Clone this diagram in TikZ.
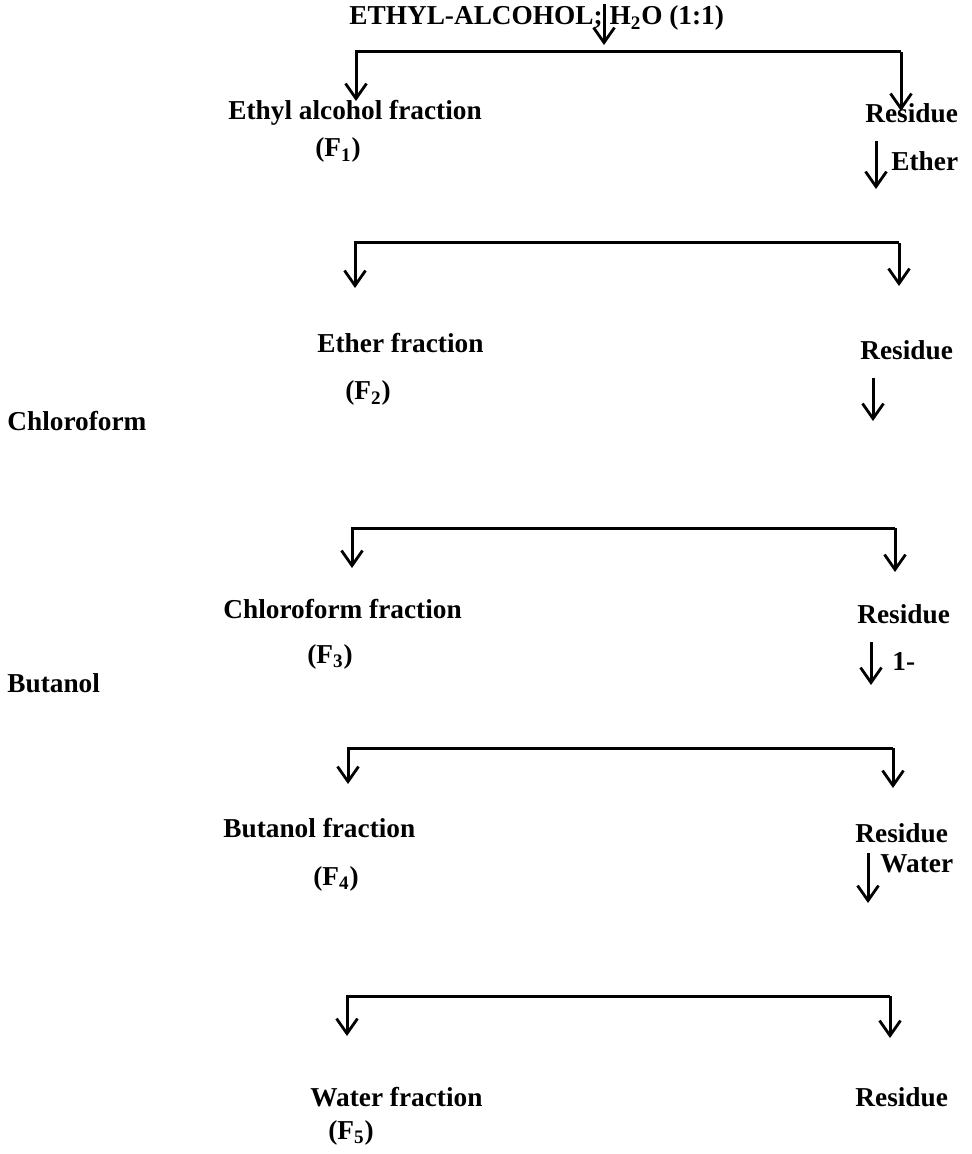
\documentclass[tikz,border=0pt]{standalone}
\usepackage{fontspec}
\setmainfont{Liberation Serif}
\usetikzlibrary{arrows.meta}

\begin{document}
\begin{tikzpicture}[x=0.5pt,y=-0.5pt,
     txt/.style = {font=\fontsize{13.65pt}{16pt}\selectfont\bfseries, inner sep=0pt, anchor=base west},
     arr/.style = {line width=1.5pt, -{Straight Barb[length=7.5pt,width=10.5pt,line width=1.4pt]}}]
     \useasboundingbox (0,0) rectangle (971,1154);

     \node[txt] (title) at (349,25) {ETHYL-ALCOHOL; H\textsubscript{2}O (1:1)};
     \coordinate (t0) at (604,4);
     \coordinate (t1) at (604,45);

     % first split
     \node[txt] (frac1) at (228,120) {Ethyl alcohol fraction};
     \node[txt] (res1) at (865,123) {Residue};
     \node[txt] (f1) at (315,157) {(F\textsubscript{1})};
     \node[txt] (ether) at (891,171) {Ether};
     \coordinate (b1l) at (356,52);
     \coordinate (b1r) at (901,52);
     \coordinate (e1l) at (356,101);
     \coordinate (e1r) at (901,111);
     \coordinate (s1a) at (876,141);
     \coordinate (s1b) at (876,189);

     % second split
     \node[txt] (frac2) at (317,353) {Ether fraction};
     \node[txt] (res2) at (860,360) {Residue};
     \node[txt] (f2) at (345,400) {(F\textsubscript{2})};
     \node[txt] (chloro) at (7,430) {Chloroform};
     \coordinate (b2l) at (355,243);
     \coordinate (b2r) at (899,243);
     \coordinate (e2l) at (355,288);
     \coordinate (e2r) at (899,286);
     \coordinate (s2a) at (873,378);
     \coordinate (s2b) at (873,421);

     % third split
     \node[txt] (frac3) at (223,618) {Chloroform fraction};
     \node[txt] (res3) at (857,623) {Residue};
     \node[txt] (f3) at (307,663) {(F\textsubscript{3})};
     \node[txt] (one) at (892,670) {1-};
     \node[txt] (butan) at (7,692) {Butanol};
     \coordinate (b3l) at (352,528);
     \coordinate (b3r) at (895,528);
     \coordinate (e3l) at (352,568);
     \coordinate (e3r) at (895,572);
     \coordinate (s3a) at (871,642);
     \coordinate (s3b) at (871,685);

     % fourth split
     \node[txt] (frac4) at (223,837) {Butanol fraction};
     \node[txt] (res4) at (855,842) {Residue};
     \node[txt] (f4) at (313,885) {(F\textsubscript{4})};
     \node[txt] (water) at (880,872) {Water};
     \coordinate (b4l) at (348,748);
     \coordinate (b4r) at (893,748);
     \coordinate (e4l) at (348,784);
     \coordinate (e4r) at (893,788);
     \coordinate (s4a) at (868,853);
     \coordinate (s4b) at (868,903);

     % fifth split
     \node[txt] (frac5) at (310,1106) {Water fraction};
     \node[txt] (res5) at (855,1106) {Residue};
     \node[txt] (f5) at (328,1139) {(F\textsubscript{5})};
     \coordinate (b5l) at (347,996);
     \coordinate (b5r) at (890,996);
     \coordinate (e5l) at (347,1036);
     \coordinate (e5r) at (890,1038);

     \draw[arr] (t0) -- (t1);
     \draw[arr] (b1r) -- (b1l) -- (e1l);
     \draw[arr] (b1r) -- (e1r);
     \draw[arr] (s1a) -- (s1b);
     \draw[arr] (b2r) -- (b2l) -- (e2l);
     \draw[arr] (b2r) -- (e2r);
     \draw[arr] (s2a) -- (s2b);
     \draw[arr] (b3r) -- (b3l) -- (e3l);
     \draw[arr] (b3r) -- (e3r);
     \draw[arr] (s3a) -- (s3b);
     \draw[arr] (b4r) -- (b4l) -- (e4l);
     \draw[arr] (b4r) -- (e4r);
     \draw[arr] (s4a) -- (s4b);
     \draw[arr] (b5r) -- (b5l) -- (e5l);
     \draw[arr] (b5r) -- (e5r);
\end{tikzpicture}
\end{document}
